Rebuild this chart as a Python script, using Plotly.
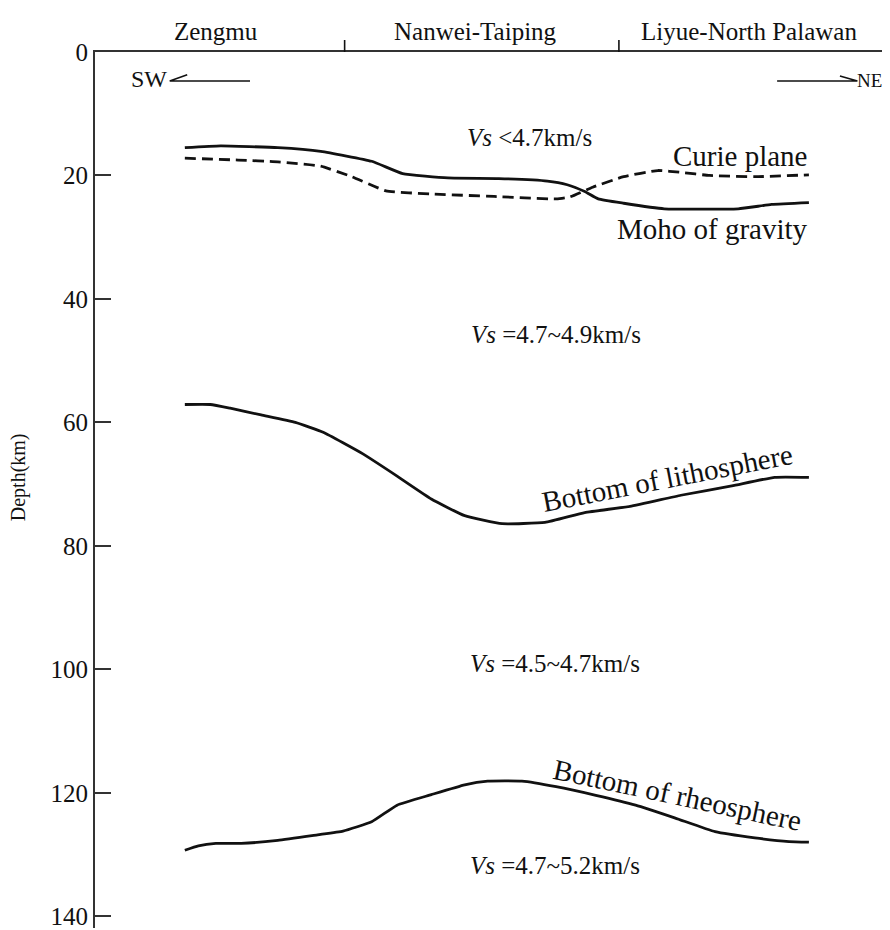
import plotly.graph_objects as go

# distance along profile (0-100 arbitrary units, SW -> NE), depth in km
moho_x = [11.3, 15.8, 23.0, 28.4, 34.8, 38.7, 44.4, 50.8, 56.9, 59.4, 61.6, 63.3, 66.5, 71.6, 80.9, 85.1, 89.8]
moho_d = [15.5, 15.2, 15.5, 16.1, 17.7, 19.7, 20.4, 20.5, 20.9, 21.5, 22.6, 23.8, 24.5, 25.4, 25.4, 24.7, 24.4]

curie_x = [11.3, 18.0, 23.0, 28.4, 32.3, 36.6, 42.3, 50.2, 58.0, 59.7, 62.6, 66.5, 70.8, 73.7, 77.3, 83.0, 89.8]
curie_d = [17.2, 17.5, 17.8, 18.5, 20.2, 22.5, 23.0, 23.4, 23.8, 23.5, 21.9, 20.2, 19.2, 19.5, 20.0, 20.2, 19.9]

litho_x = [11.3, 14.5, 17.0, 20.9, 25.2, 28.7, 33.7, 38.0, 42.3, 46.5, 51.2, 56.6, 61.6, 67.3, 73.7, 80.1, 85.5, 89.8]
litho_d = [57.1, 57.1, 57.7, 58.8, 60.0, 61.6, 65.1, 68.7, 72.4, 75.1, 76.4, 76.2, 74.6, 73.6, 71.8, 70.3, 68.9, 68.9]

rheo_x = [11.3, 13.0, 15.2, 18.4, 23.0, 28.0, 31.2, 34.8, 38.0, 42.3, 46.5, 49.4, 53.7, 58.0, 63.0, 68.0, 73.0, 78.0, 83.0, 87.3, 89.8]
rheo_d = [129.3, 128.6, 128.2, 128.2, 127.7, 126.8, 126.2, 124.7, 122.0, 120.3, 118.7, 118.1, 118.1, 119.0, 120.4, 122.0, 124.1, 126.3, 127.3, 127.9, 128.0]

y_ticks = [0, 20, 40, 60, 80, 100, 120, 140]
regions = ["Zengmu", "Nanwei-Taiping", "Liyue-North Palawan"]
region_x = [15.2, 47.9, 82.3]
region_bounds = [31.4, 65.9]

FONT = "Liberation Serif, Times New Roman, serif"
INK = "#111111"
PLOT_H = 878.0

fig = go.Figure()
fig.add_trace(go.Scatter(x=moho_x, y=moho_d, mode="lines", line_shape="spline",
                         line=dict(color=INK, width=2.8, smoothing=0.4), showlegend=False))
fig.add_trace(go.Scatter(x=curie_x, y=curie_d, mode="lines", line_shape="spline",
                         line=dict(color=INK, width=2.8, dash="11px,6px", smoothing=0.4), showlegend=False))
fig.add_trace(go.Scatter(x=litho_x, y=litho_d, mode="lines", line_shape="spline",
                         line=dict(color=INK, width=2.8, smoothing=0.4), showlegend=False))
fig.add_trace(go.Scatter(x=rheo_x, y=rheo_d, mode="lines", line_shape="spline",
                         line=dict(color=INK, width=2.8, smoothing=0.4), showlegend=False))

def txt(x, y, s, size=21, anchor="center", angle=0, xref="x", yref="y"):
    fig.add_annotation(x=x, y=y, xref=xref, yref=yref, text=s, showarrow=False,
                       xanchor=anchor, yanchor="middle", textangle=angle,
                       font=dict(family=FONT, size=size, color=INK))

# region labels on top (above the plot frame)
for name, rx in zip(regions, region_x):
    txt(rx, 1 + 21 / PLOT_H, name, size=25, yref="paper")
for bx in region_bounds:
    fig.add_shape(type="line", x0=bx, x1=bx, y0=1.0, y1=1 + 12 / PLOT_H, xref="x", yref="paper",
                  line=dict(color=INK, width=1.6))

# layer annotations
txt(54.6, 13.9, "<i>Vs</i> <4.7km/s", size=25)
txt(89.8, 16.9, "Curie plane", size=29, anchor="right")
txt(89.9, 28.6, "Moho of gravity", size=29, anchor="right")
txt(58.0, 45.7, "<i>Vs</i> =4.7~4.9km/s", size=25)
txt(72.0, 69.0, "Bottom of lithosphere", size=29, angle=-11)
txt(57.9, 99.1, "<i>Vs</i> =4.5~4.7km/s", size=25)
txt(73.3, 120.4, "Bottom of rheosphere", size=29, angle=12)
txt(57.9, 131.7, "<i>Vs</i> =4.7~5.2km/s", size=25)

# direction arrows
txt(9.3, 4.3, "SW", size=24, anchor="right")
fig.add_shape(type="path", path="M 19.5,4.7 L 9.4,4.7 L 11.6,3.7", xref="x", yref="y",
              line=dict(color=INK, width=1.6))
txt(95.6, 4.6, "NE", size=19, anchor="left")
fig.add_shape(type="path", path="M 85.8,4.7 L 95.9,4.7 L 93.7,3.9", xref="x", yref="y",
              line=dict(color=INK, width=1.6))

# y-axis title
fig.add_annotation(x=-0.097, y=68.9, xref="paper", yref="y", text="Depth(km)",
                   showarrow=False, textangle=-90, xanchor="center", yanchor="middle",
                   font=dict(family=FONT, size=20, color=INK))

fig.update_layout(
    width=882, height=922,
    margin=dict(l=87, r=0, t=44, b=0),
    paper_bgcolor="white", plot_bgcolor="white",
    xaxis=dict(range=[0, 100], showgrid=False, zeroline=False, showticklabels=False,
               ticks="", side="top", showline=True, linecolor="#333", linewidth=2),
    yaxis=dict(range=[141.9, 0], showgrid=False, zeroline=False,
               tickmode="array", tickvals=y_ticks, ticktext=[str(v) for v in y_ticks],
               ticks="inside", ticklen=16, tickwidth=2, tickcolor="#333",
               showline=True, linecolor="#333", linewidth=2, ticklabeloverflow="allow",
               tickfont=dict(family=FONT, size=25, color=INK)),
)

fig.write_html("out.html")
